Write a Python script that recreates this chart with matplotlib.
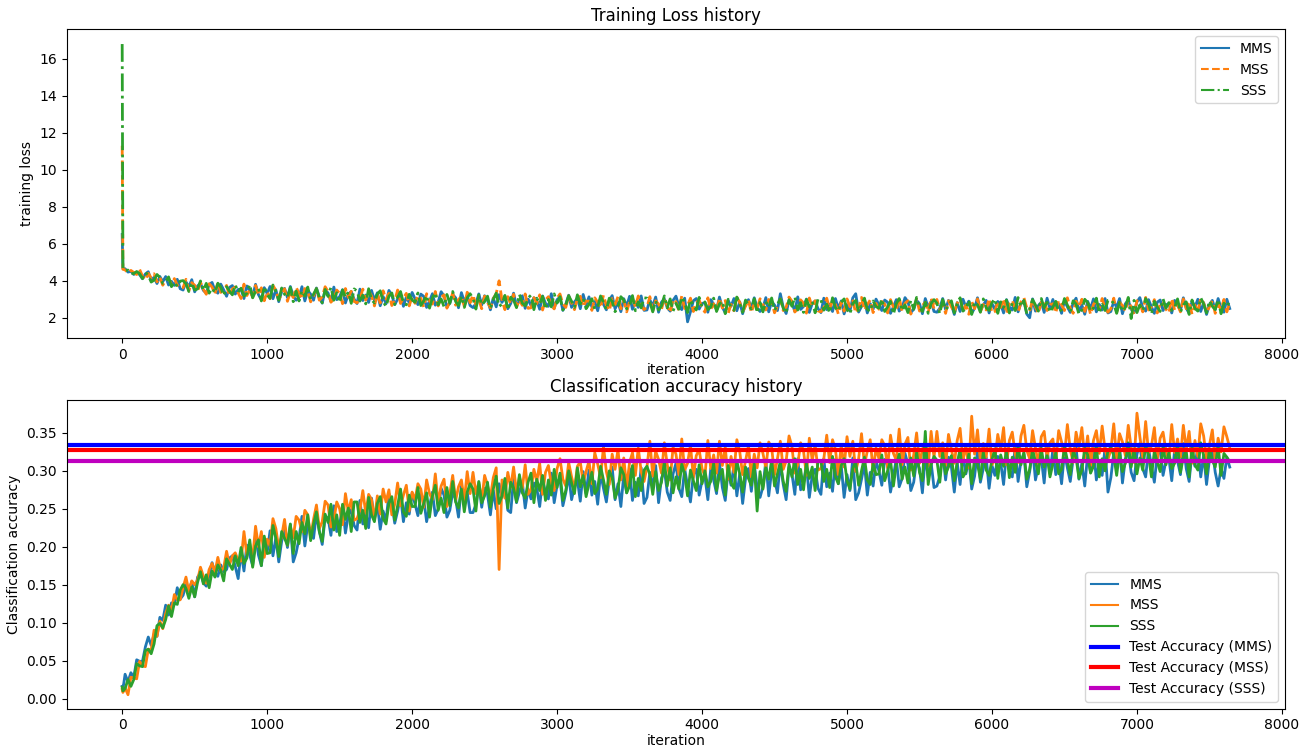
import matplotlib
matplotlib.use("Agg")
import matplotlib.pyplot as plt
import numpy as np

plt.rcParams['font.size'] = 10

iters = np.concatenate([[0, 5], np.arange(20, 7641, 20)])

# training loss, in hundredths
loss_mms = [650, 465,
    465, 447, 451, 434, 447, 433, 411, 437, 449, 402, 419, 385, 423, 395, 423, 377, 397, 375, 408, 357,
    350, 394, 368, 406, 340, 372, 386, 348, 333, 380, 391, 347, 333, 382, 351, 316, 364, 374, 328, 353,
    354, 304, 372, 347, 317, 381, 325, 297, 363, 331, 369, 303, 351, 287, 341, 359, 309, 369, 317, 295,
    311, 368, 291, 346, 328, 295, 361, 313, 279, 351, 334, 288, 366, 298, 314, 352, 280, 328, 342, 300,
    277, 355, 293, 323, 283, 348, 295, 335, 265, 315, 276, 348, 321, 271, 301, 330, 262, 312, 282, 337,
    302, 271, 328, 316, 256, 291, 330, 268, 286, 341, 318, 260, 278, 326, 308, 254, 336, 288, 321, 266,
    255, 277, 329, 269, 319, 297, 243, 307, 259, 325, 283, 315, 249, 277, 333, 264, 294, 319, 251, 301,
    266, 308, 294, 246, 318, 278, 262, 330, 252, 298, 312, 240, 274, 322, 256, 286, 304, 249, 326, 269,
    313, 258, 288, 238, 306, 273, 243, 293, 320, 248, 283, 233, 303, 263, 316, 246, 286, 256, 318, 240,
    242, 297, 264, 312, 230, 284, 302, 254, 236, 294, 317, 262, 244, 306, 178, 232, 292, 304, 247, 278,
    280, 230, 298, 273, 243, 312, 256, 228, 294, 262, 304, 238, 286, 222, 276, 298, 248, 308, 256, 234,
    252, 309, 232, 287, 269, 239, 330, 257, 223, 295, 281, 235, 313, 245, 261, 301, 229, 277, 291, 249,
    228, 306, 244, 274, 234, 304, 251, 291, 221, 271, 236, 308, 330, 231, 261, 294, 226, 276, 246, 301,
    270, 239, 296, 284, 224, 259, 298, 236, 254, 309, 286, 228, 246, 294, 276, 222, 304, 256, 289, 234,
    230, 252, 304, 244, 294, 272, 218, 282, 234, 300, 258, 290, 224, 252, 308, 239, 269, 294, 226, 276,
    246, 288, 274, 226, 298, 258, 242, 310, 232, 278, 292, 220, 200, 302, 236, 266, 284, 229, 306, 249,
    299, 244, 274, 224, 292, 259, 229, 279, 306, 234, 269, 219, 289, 249, 302, 232, 272, 242, 304, 226,
    234, 289, 256, 304, 222, 276, 294, 246, 228, 286, 309, 254, 236, 298, 259, 224, 284, 296, 239, 270,
    276, 226, 294, 269, 239, 308, 252, 224, 290, 258, 300, 234, 282, 218, 272, 294, 244, 304, 252, 230,
    300, 250]

loss_mss = [1130, 462,
    459, 442, 456, 445, 434, 462, 425, 404, 440, 416, 438, 394, 419, 376, 405, 414, 380, 412, 377, 360,
    362, 408, 346, 390, 376, 340, 392, 354, 327, 384, 366, 329, 392, 337, 350, 375, 318, 356, 367, 334,
    304, 382, 320, 350, 310, 375, 322, 362, 292, 342, 303, 375, 348, 298, 328, 357, 289, 339, 309, 364,
    332, 301, 358, 346, 286, 318, 357, 295, 313, 368, 342, 284, 302, 350, 332, 276, 358, 310, 343, 288,
    281, 303, 355, 295, 345, 318, 264, 328, 280, 346, 300, 332, 266, 294, 350, 277, 307, 332, 264, 314,
    278, 320, 306, 258, 330, 290, 274, 342, 264, 310, 324, 252, 286, 334, 268, 298, 316, 261, 338, 281,
    324, 269, 299, 249, 317, 284, 254, 304, 331, 400, 294, 244, 314, 274, 327, 257, 297, 267, 329, 251,
    254, 309, 276, 324, 242, 296, 314, 266, 248, 306, 329, 274, 256, 318, 279, 244, 304, 316, 259, 290,
    290, 240, 308, 283, 253, 322, 266, 238, 304, 272, 314, 248, 296, 232, 286, 308, 258, 318, 266, 244,
    257, 314, 237, 292, 274, 244, 310, 262, 228, 300, 286, 240, 318, 250, 266, 306, 234, 282, 296, 254,
    230, 308, 246, 276, 236, 306, 253, 293, 223, 273, 238, 310, 283, 233, 263, 296, 228, 278, 248, 303,
    273, 242, 299, 287, 227, 262, 301, 239, 257, 312, 289, 231, 249, 297, 279, 225, 307, 259, 292, 237,
    232, 254, 306, 246, 296, 274, 220, 284, 236, 302, 260, 292, 226, 254, 310, 241, 271, 296, 228, 278,
    246, 288, 274, 226, 298, 258, 242, 310, 232, 278, 292, 220, 254, 302, 236, 266, 284, 229, 306, 249,
    299, 244, 274, 224, 292, 259, 229, 279, 306, 234, 269, 219, 289, 249, 302, 232, 272, 242, 304, 226,
    234, 289, 256, 304, 222, 276, 294, 246, 228, 286, 309, 254, 236, 298, 259, 224, 284, 296, 239, 270,
    276, 226, 294, 269, 239, 308, 252, 224, 290, 258, 300, 234, 282, 218, 272, 294, 244, 304, 252, 230,
    249, 306, 229, 284, 266, 236, 302, 254, 220, 292, 278, 232, 310, 242, 258, 298, 226, 274, 288, 246,
    226, 304, 242, 272, 232, 302, 249, 289, 219, 269, 234, 306, 279, 229, 259, 292, 224, 274, 244, 299,
    232, 282]

loss_sss = [1680, 468,
    454, 458, 440, 439, 450, 439, 412, 445, 430, 393, 403, 434, 419, 386, 393, 421, 368, 393, 369, 398,
    401, 384, 342, 390, 350, 356, 399, 348, 386, 333, 360, 334, 387, 365, 320, 368, 344, 324, 378, 338,
    360, 318, 332, 380, 308, 343, 359, 291, 369, 323, 305, 377, 343, 295, 361, 327, 309, 364, 287, 344,
    291, 346, 316, 366, 298, 328, 358, 308, 281, 353, 315, 365, 295, 335, 282, 350, 310, 340, 278, 356,
    345, 290, 323, 275, 357, 298, 280, 328, 346, 288, 261, 316, 334, 272, 311, 342, 282, 270, 327, 296,
    284, 334, 266, 291, 321, 252, 308, 336, 270, 302, 260, 326, 278, 342, 288, 266, 316, 256, 308, 330,
    304, 247, 324, 269, 287, 317, 251, 299, 333, 261, 275, 321, 243, 311, 295, 255, 327, 279, 265, 307,
    322, 244, 306, 276, 316, 246, 299, 259, 329, 279, 314, 242, 269, 319, 289, 256, 324, 274, 304, 249,
    272, 303, 246, 258, 318, 283, 244, 306, 288, 233, 256, 314, 296, 248, 266, 320, 238, 286, 253, 308,
    306, 284, 232, 292, 242, 264, 318, 254, 302, 236, 278, 246, 312, 284, 228, 297, 267, 242, 310, 260,
    286, 244, 258, 306, 234, 274, 290, 222, 300, 254, 240, 312, 278, 230, 296, 266, 248, 303, 226, 283,
    232, 287, 257, 307, 239, 272, 302, 252, 225, 297, 262, 312, 242, 282, 229, 299, 259, 289, 227, 305,
    296, 241, 274, 226, 308, 254, 236, 284, 302, 244, 221, 276, 294, 232, 271, 306, 246, 234, 291, 260,
    252, 302, 234, 259, 289, 220, 276, 304, 238, 270, 228, 294, 246, 310, 256, 234, 284, 224, 276, 298,
    279, 222, 299, 244, 262, 292, 226, 274, 308, 236, 250, 296, 218, 286, 270, 230, 302, 254, 240, 282,
    302, 224, 286, 256, 296, 226, 279, 239, 309, 259, 294, 222, 249, 299, 269, 236, 304, 254, 284, 229,
    258, 289, 232, 244, 304, 269, 230, 292, 274, 219, 242, 300, 282, 234, 252, 306, 224, 272, 239, 294,
    298, 276, 224, 284, 234, 256, 310, 196, 294, 228, 270, 238, 304, 276, 220, 289, 259, 234, 302, 252,
    282, 240, 254, 302, 230, 270, 286, 218, 296, 250, 236, 308, 274, 226, 292, 262, 244, 299, 222, 279,
    260, 290]

# classification accuracy, in thousandths
acc_mms = [16, 12,
    32, 22, 34, 28, 51, 49, 49, 68, 81, 70, 85, 82, 107, 103, 123, 110, 126, 124, 146, 131,
    136, 150, 142, 154, 134, 160, 165, 153, 148, 163, 179, 166, 161, 176, 167, 170, 185, 188, 174, 158,
    193, 168, 202, 189, 175, 217, 189, 175, 208, 192, 221, 188, 212, 180, 207, 224, 199, 229, 180, 192,
    211, 240, 201, 229, 220, 211, 244, 220, 203, 239, 238, 215, 254, 220, 228, 254, 218, 242, 249, 228,
    222, 261, 230, 245, 225, 264, 237, 257, 223, 247, 234, 270, 257, 231, 247, 267, 233, 258, 243, 271,
    256, 241, 269, 263, 233, 253, 272, 241, 250, 277, 268, 239, 248, 272, 263, 239, 280, 256, 272, 245,
    245, 256, 282, 252, 277, 269, 242, 274, 250, 283, 265, 281, 248, 245, 290, 258, 272, 285, 251, 276,
    263, 284, 277, 253, 289, 271, 263, 297, 258, 281, 290, 254, 271, 295, 262, 279, 288, 260, 299, 270,
    301, 268, 286, 256, 297, 277, 259, 289, 305, 262, 283, 253, 295, 271, 303, 261, 285, 267, 304, 257,
    265, 298, 278, 307, 258, 290, 301, 272, 261, 296, 310, 277, 266, 303, 280, 259, 295, 302, 268, 287,
    292, 262, 303, 288, 270, 311, 278, 261, 301, 281, 307, 267, 296, 257, 290, 303, 273, 309, 278, 265,
    279, 313, 267, 300, 289, 271, 311, 282, 262, 305, 296, 269, 316, 275, 284, 308, 265, 294, 302, 277,
    269, 316, 279, 297, 273, 315, 283, 307, 265, 295, 274, 317, 262, 271, 289, 309, 268, 298, 280, 313,
    300, 281, 315, 308, 272, 293, 316, 279, 290, 323, 309, 274, 285, 314, 303, 271, 320, 291, 311, 278,
    280, 293, 324, 288, 318, 305, 272, 311, 282, 322, 296, 316, 276, 293, 326, 285, 303, 318, 277, 307,
    294, 319, 311, 282, 325, 301, 292, 333, 286, 313, 322, 279, 299, 328, 288, 306, 317, 284, 330, 296,
    328, 295, 313, 283, 324, 304, 286, 316, 332, 289, 310, 280, 322, 298, 330, 288, 312, 294, 331, 272,
    291, 324, 304, 333, 284, 316, 327, 298, 287, 322, 336, 303, 292, 329, 306, 285, 321, 328, 294, 313,
    317, 287, 328, 313, 295, 336, 303, 286, 326, 306, 332, 292, 321, 282, 315, 328, 298, 280, 303, 290,
    318, 305]

acc_mss = [12, 8,
    14, 5, 28, 27, 26, 49, 43, 42, 65, 64, 90, 82, 102, 92, 112, 123, 116, 137, 130, 130,
    146, 160, 141, 155, 150, 156, 173, 161, 152, 170, 178, 166, 186, 168, 172, 194, 176, 188, 192, 182,
    181, 220, 189, 204, 184, 227, 200, 220, 186, 210, 201, 237, 224, 198, 214, 236, 202, 227, 212, 240,
    235, 220, 248, 242, 212, 236, 255, 224, 233, 260, 255, 226, 235, 259, 250, 229, 270, 246, 262, 235,
    237, 248, 274, 244, 269, 262, 235, 267, 243, 276, 259, 275, 242, 256, 284, 254, 268, 281, 247, 272,
    262, 283, 276, 252, 288, 270, 262, 296, 257, 280, 289, 253, 270, 294, 261, 279, 288, 260, 299, 270,
    298, 270, 285, 260, 294, 281, 265, 291, 304, 170, 288, 264, 298, 278, 305, 272, 292, 277, 308, 269,
    275, 302, 286, 310, 269, 298, 307, 283, 274, 303, 316, 289, 280, 311, 292, 276, 306, 312, 284, 299,
    313, 283, 324, 309, 291, 332, 299, 282, 322, 302, 328, 288, 317, 278, 311, 324, 294, 330, 299, 286,
    305, 339, 293, 326, 315, 297, 337, 308, 288, 331, 322, 295, 342, 301, 310, 334, 291, 320, 328, 303,
    293, 340, 303, 321, 297, 339, 307, 331, 289, 319, 298, 341, 325, 295, 313, 333, 292, 322, 304, 337,
    323, 304, 338, 331, 295, 316, 339, 302, 313, 346, 332, 297, 308, 337, 326, 294, 343, 314, 334, 301,
    303, 316, 347, 311, 341, 328, 295, 334, 305, 345, 319, 339, 299, 316, 349, 308, 326, 341, 300, 330,
    316, 341, 333, 304, 347, 323, 314, 355, 308, 335, 344, 301, 321, 350, 310, 328, 339, 306, 352, 318,
    352, 319, 337, 307, 348, 328, 310, 340, 356, 313, 334, 304, 372, 322, 354, 312, 336, 318, 355, 308,
    315, 348, 328, 357, 308, 340, 351, 322, 311, 346, 360, 327, 316, 353, 330, 309, 345, 352, 318, 337,
    342, 312, 353, 338, 320, 361, 328, 311, 351, 331, 357, 317, 346, 307, 340, 353, 323, 359, 328, 315,
    328, 362, 316, 349, 338, 320, 360, 331, 311, 376, 345, 318, 365, 324, 333, 357, 314, 343, 351, 326,
    314, 361, 324, 342, 318, 360, 328, 352, 310, 340, 319, 362, 346, 316, 334, 354, 313, 343, 325, 358,
    345, 330]

acc_sss = [15, 10,
    13, 25, 16, 25, 46, 43, 42, 63, 65, 59, 72, 96, 99, 93, 104, 122, 108, 126, 124, 143,
    150, 145, 132, 147, 134, 153, 167, 151, 163, 146, 168, 160, 176, 169, 155, 184, 177, 170, 188, 175,
    199, 178, 185, 209, 173, 201, 209, 175, 214, 191, 192, 228, 211, 187, 220, 211, 202, 230, 191, 220,
    204, 232, 217, 242, 208, 230, 246, 220, 207, 243, 232, 256, 222, 242, 215, 256, 236, 251, 220, 259,
    259, 232, 248, 224, 265, 242, 233, 257, 266, 237, 230, 257, 266, 235, 254, 276, 246, 240, 268, 253,
    253, 278, 244, 257, 271, 239, 267, 281, 248, 264, 245, 278, 254, 286, 259, 251, 276, 246, 272, 283,
    276, 247, 286, 258, 267, 285, 252, 276, 293, 257, 267, 290, 251, 285, 277, 259, 295, 271, 264, 285,
    297, 258, 289, 274, 294, 261, 288, 268, 302, 278, 297, 261, 274, 300, 284, 270, 304, 279, 294, 266,
    283, 298, 270, 276, 306, 288, 269, 300, 291, 264, 275, 304, 295, 271, 280, 307, 266, 290, 274, 301,
    306, 295, 269, 299, 274, 285, 312, 280, 304, 271, 292, 276, 309, 295, 267, 301, 287, 274, 308, 283,
    300, 279, 286, 310, 274, 294, 302, 268, 307, 284, 277, 313, 296, 272, 305, 290, 281, 309, 247, 299,
    276, 304, 289, 314, 280, 296, 312, 286, 273, 309, 292, 316, 282, 302, 275, 310, 290, 305, 274, 313,
    313, 286, 302, 278, 319, 292, 283, 307, 316, 287, 276, 303, 312, 281, 300, 318, 288, 282, 310, 295,
    296, 321, 287, 300, 314, 280, 308, 322, 289, 305, 284, 317, 293, 325, 298, 287, 352, 282, 308, 319,
    314, 285, 324, 296, 305, 320, 287, 311, 328, 292, 299, 322, 283, 317, 309, 289, 325, 301, 294, 315,
    329, 290, 321, 306, 326, 291, 318, 298, 332, 308, 325, 289, 302, 328, 312, 296, 330, 305, 320, 292,
    309, 324, 296, 302, 332, 314, 295, 326, 317, 290, 301, 330, 321, 297, 306, 333, 292, 316, 300, 327,
    331, 320, 294, 324, 299, 310, 337, 305, 329, 296, 317, 301, 334, 320, 292, 326, 312, 299, 333, 308,
    324, 303, 310, 334, 298, 318, 326, 292, 331, 308, 301, 337, 320, 296, 329, 314, 305, 333, 294, 323,
    318, 312]

test_acc = [0.3335, 0.3275, 0.3135]
test_names = ["MMS", "MSS", "SSS"]
test_colors = ["b", "r", "m"]

fig, (ax1, ax2) = plt.subplots(2, 1, figsize=(13.1, 7.5), dpi=100)
fig.subplots_adjust(left=0.051, right=0.981, top=0.961, bottom=0.055, hspace=0.2)

# dense noisy curves: slightly thicker strokes so the band reads as filled
lw = 2.0
ax1.plot(iters, np.array(loss_mms) / 100, '-', lw=lw, label="MMS")
ax1.plot(iters, np.array(loss_mss) / 100, '--', lw=lw, label="MSS")
ax1.plot(iters, np.array(loss_sss) / 100, '-.', lw=lw, label="SSS")
ax1.set_title("Training Loss history")
ax1.set_xlabel("iteration", labelpad=1)
ax1.set_ylabel("training loss")
ax1.set_ylim(0.9, 17.6)
leg1 = ax1.legend(loc="upper right")
for ln in leg1.get_lines():
    ln.set_linewidth(1.5)

ax2.plot(iters, np.array(acc_mms) / 1000, lw=lw, label="MMS")
ax2.plot(iters, np.array(acc_mss) / 1000, lw=lw, label="MSS")
ax2.plot(iters, np.array(acc_sss) / 1000, lw=lw, label="SSS")
for val, name, col in zip(test_acc, test_names, test_colors):
    ax2.axhline(val, color=col, lw=3, label="Test Accuracy (%s)" % name)
ax2.set_title("Classification accuracy history")
ax2.set_xlabel("iteration", labelpad=1)
ax2.set_ylabel("Classification accuracy")
ax2.set_ylim(-0.0135, 0.3935)
leg2 = ax2.legend(loc="lower right")
for ln in leg2.get_lines()[:3]:
    ln.set_linewidth(1.5)

fig.savefig("out.png")
